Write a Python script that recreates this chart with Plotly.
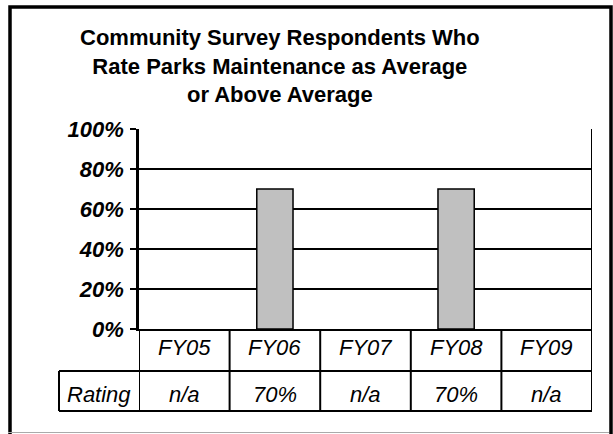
import plotly.graph_objects as go

# ---- data ----
categories = ["FY05", "FY06", "FY07", "FY08", "FY09"]
rating_pct = [None, 70, None, 70, None]          # percent rating; None = not available
row_header = "Rating"
y_ticks = [0, 20, 40, 60, 80, 100]
y_tick_text = [f"{v}%" for v in y_ticks]
title_lines = [
    "Community Survey Respondents Who",
    "Rate Parks Maintenance as Average",
    "or Above Average",
]

rating_text = [f"{v}%" if v is not None else "n/a" for v in rating_pct]

# ---- page geometry (pixels) ----
W, H = 613, 434
PL, PR, PT, PB = 139, 592, 129, 329      # plot area edges
ROW1, ROW2 = 371, 411                    # bottoms of the two table rows
HEAD_L = 59                              # left edge of the "Rating" cell

FONT = "Liberation Sans, Arial, sans-serif"


def px(x):
    return (x - PL) / (PR - PL)


def py(y):
    return (PB - y) / (PB - PT)


fig = go.Figure()
fig.add_trace(go.Bar(
    x=categories,
    y=rating_pct,
    width=0.4,
    marker=dict(color="#c0c0c0", line=dict(color="black", width=1.5)),
    hoverinfo="skip",
))

shapes = []
line = dict(color="black", width=2)

# table horizontal rules
for yy, x0 in [(ROW1, HEAD_L), (ROW2, HEAD_L)]:
    shapes.append(dict(type="line", xref="paper", yref="paper",
                       x0=px(x0), x1=1, y0=py(yy), y1=py(yy), line=line))
# table vertical rules at category boundaries
n = len(categories)
for k in range(n + 1):
    top = 1 if k == n else 0
    shapes.append(dict(type="line", xref="x", yref="paper",
                       x0=k - 0.5, x1=k - 0.5, y0=py(ROW2), y1=top, line=line))
# header cell left edge
shapes.append(dict(type="line", xref="paper", yref="paper",
                   x0=px(HEAD_L), x1=px(HEAD_L), y0=py(ROW1), y1=py(ROW2), line=line))
# outer frame
shapes.append(dict(type="rect", xref="paper", yref="paper",
                   x0=px(10), x1=px(611), y0=py(7), y1=py(445),
                   line=dict(color="black", width=3.5)))
shapes.append(dict(type="line", xref="paper", yref="paper",
                   x0=px(8), x1=px(609), y0=py(432.5), y1=py(432.5),
                   line=dict(color="#aaaaaa", width=1)))

annotations = []
cell_font = dict(family=FONT, size=22, color="black", style="italic")
for c, t in zip(categories, rating_text):
    annotations.append(dict(x=c, xref="x", y=py(347), yref="paper", text=c,
                            showarrow=False, font=cell_font,
                            xanchor="center", yanchor="middle"))
    annotations.append(dict(x=c, xref="x", y=py(394), yref="paper", text=t,
                            showarrow=False, font=cell_font,
                            xanchor="center", yanchor="middle"))
annotations.append(dict(x=px((HEAD_L + PL) / 2), xref="paper", y=py(394), yref="paper",
                        text=row_header, showarrow=False, font=cell_font,
                        xanchor="center", yanchor="middle"))
annotations.append(dict(x=px(280), xref="paper", y=py(66), yref="paper",
                        text="<br>".join(title_lines), showarrow=False,
                        font=dict(family=FONT, size=22, color="black", weight="bold"),
                        xanchor="center", yanchor="middle", align="center"))

fig.update_layout(
    width=W, height=H,
    margin=dict(l=PL, r=W - PR, t=PT, b=H - PB, autoexpand=False),
    paper_bgcolor="white", plot_bgcolor="white",
    showlegend=False,
    shapes=shapes,
    annotations=annotations,
    bargap=0.6,
)
fig.update_xaxes(
    type="category", range=[-0.5, n - 0.5],
    showticklabels=False, ticks="", showgrid=False,
    showline=True, linecolor="black", linewidth=2, mirror=False,
    fixedrange=True,
)
fig.update_yaxes(
    range=[0, 100], tickmode="array", tickvals=y_ticks, ticktext=y_tick_text,
    tickfont=dict(family=FONT, size=22, color="black", style="italic", weight="bold"),
    ticks="outside", ticklen=6, tickwidth=2, tickcolor="black",
    ticklabelstandoff=2,
    showgrid=True, gridcolor="black", gridwidth=2,
    showline=True, linecolor="black", linewidth=2.5,
    zeroline=False, fixedrange=True,
)

fig.write_html("out.html", config={"displayModeBar": False})
